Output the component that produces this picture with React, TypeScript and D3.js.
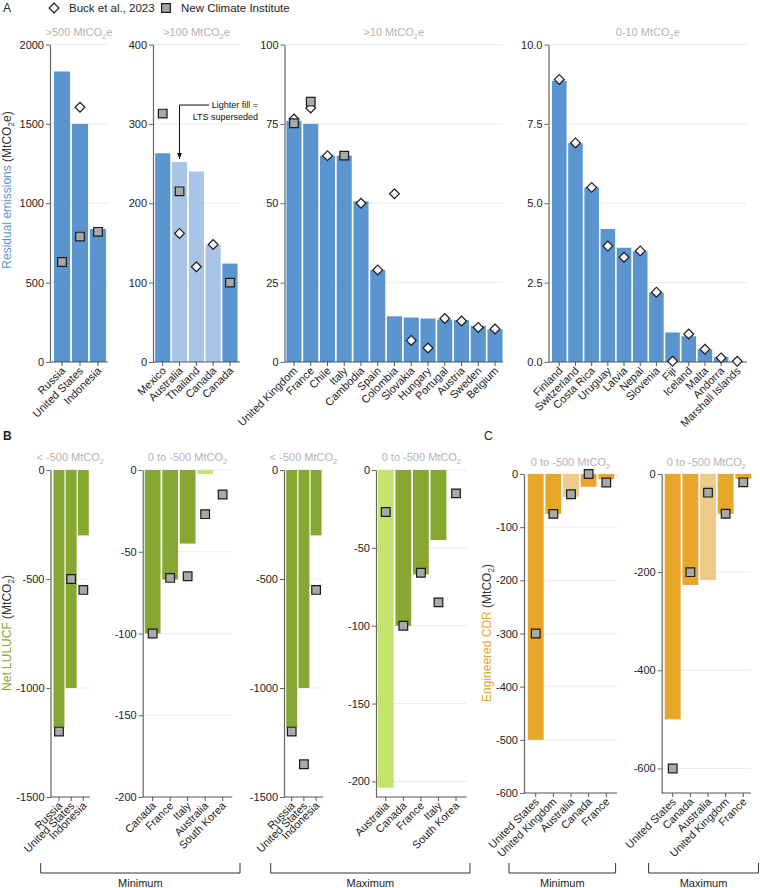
import React, { useEffect, useRef } from 'react';
import * as d3 from 'd3';

const BLUE = '#5b95cf';
const BLUE_LIGHT = '#a8c4e7';
const GREEN = '#86a832';
const GREEN_LIGHT = '#c5e46e';
const ORANGE = '#e8a62b';
const ORANGE_LIGHT = '#efca88';

// ---- A: residual emissions (MtCO2e)
const a1Countries = ['Russia', 'United States', 'Indonesia'];
const a1Bars = [1830, 1500, 838];
const a1Buck = [null, 1605, null];
const a1Nci = [630, 790, 820];

const a2Countries = ['Mexico', 'Australia', 'Thailand', 'Canada', 'Canada'];
const a2Bars = [263, 252, 240, 148, 124];
const a2Superseded = [false, true, true, true, false];
const a2Buck = [null, 162, 120, 148, null];
const a2Nci = [313, 215, null, null, 100];

const a3Countries = ['United Kingdom', 'France', 'Chile', 'Italy', 'Cambodia', 'Spain', 'Colombia',
  'Slovakia', 'Hungary', 'Portugal', 'Austria', 'Sweden', 'Belgium'];
const a3Bars = [76, 75, 65, 65, 50.6, 29, 14.4, 14, 13.7, 13.4, 13.2, 11.4, 10.3];
const a3Buck = [76.5, 80, 65, null, 50, 29, 53, 6.8, 4.4, 13.7, 12.9, 10.9, 10.4];
const a3Nci = [75.2, 82, null, 65, null, null, null, null, null, null, null, null, null];

const a4Countries = ['Finland', 'Switzerland', 'Costa Rica', 'Uruguay', 'Latvia', 'Nepal', 'Slovenia',
  'Fiji', 'Iceland', 'Malta', 'Andorra', 'Marshall Islands'];
const a4Bars = [8.86, 6.89, 5.5, 4.19, 3.6, 3.49, 2.19, 0.93, 0.81, 0.4, 0.15, 0];
const a4Buck = [8.9, 6.9, 5.5, 3.65, 3.3, 3.5, 2.2, 0.02, 0.88, 0.4, 0.13, 0.02];

// ---- B: net LULUCF (MtCO2)
const bBigCountries = ['Russia', 'United States', 'Indonesia'];
const b1Bars = [-1180, -1000, -300];
const b1Nci = [-1200, -500, -550];
const b3Bars = [-1180, -1000, -300];
const b3Nci = [-1200, -1350, -550];

const b2Countries = ['Canada', 'France', 'Italy', 'Australia', 'South Korea'];
const b2Bars = [-100, -67, -45, -2.5, 0];
const b2Superseded = [false, false, false, true, false];
const b2Nci = [-100, -66, -65, -27, -15];

const b4Countries = ['Australia', 'Canada', 'France', 'Italy', 'South Korea'];
const b4Bars = [-204, -100, -67, -45, 0];
const b4Superseded = [true, false, false, false, false];
const b4Nci = [-27, -100, -66, -85, -15];

// ---- C: engineered CDR (MtCO2)
const c1Countries = ['United States', 'United Kingdom', 'Australia', 'Canada', 'France'];
const c1Bars = [-500, -75, -43, -24, -10];
const c1Superseded = [false, false, true, false, false];
const c1Nci = [-300, -75, -38, 0, -16];

const c2Countries = ['United States', 'Canada', 'Australia', 'United Kingdom', 'France'];
const c2Bars = [-500, -226, -216, -81, -10];
const c2Superseded = [false, false, true, false, false];
const c2Nci = [-600, -200, -38, -81, -17];

const tickA1 = [0, 500, 1000, 1500, 2000];
const tickA2 = [0, 100, 200, 300, 400];
const tickA3 = [0, 25, 50, 75, 100];
const tickA4 = [0, 2.5, 5, 7.5, 10];
const tickBBig = [0, -500, -1000, -1500];
const tickBSmall = [0, -50, -100, -150, -200];
const tickC1 = [0, -100, -200, -300, -400, -500, -600];
const tickC2 = [0, -200, -400, -600];

const bracketLabels = ['Minimum', 'Maximum', 'Minimum', 'Maximum'];

const A_TOP = 44.5, A_BOT = 362;
const B_TOP = 470, B_BOT = 797;
const C_TOP = 474, C_BOT = 793;

const intFmt = (d: number) => String(d);
const oneDec = d3.format('.1f');

const panels = [
  { cats: a1Countries, bars: a1Bars, light: null, buck: a1Buck, nci: a1Nci, domain: [0, 2000], ticks: tickA1, fmt: intFmt,
    title: ['>500 MtCO', 'e'], axisX: 50, gridEnd: 108, x0: 53, x1: 107, top: A_TOP, bottom: A_BOT, titleY: 36, color: BLUE, lightColor: BLUE_LIGHT },
  { cats: a2Countries, bars: a2Bars, light: a2Superseded, buck: a2Buck, nci: a2Nci, domain: [0, 400], ticks: tickA2, fmt: intFmt,
    title: ['>100 MtCO', 'e'], axisX: 153, gridEnd: 240, x0: 154.3, x1: 238.4, top: A_TOP, bottom: A_BOT, titleY: 36, color: BLUE, lightColor: BLUE_LIGHT },
  { cats: a3Countries, bars: a3Bars, light: null, buck: a3Buck, nci: a3Nci, domain: [0, 100], ticks: tickA3, fmt: intFmt,
    title: ['>10 MtCO', 'e'], axisX: 284.5, gridEnd: 503, x0: 285.6, x1: 503.4, top: A_TOP, bottom: A_BOT, titleY: 36, color: BLUE, lightColor: BLUE_LIGHT },
  { cats: a4Countries, bars: a4Bars, light: null, buck: a4Buck, nci: null, domain: [0, 10], ticks: tickA4, fmt: oneDec,
    title: ['0-10 MtCO', 'e'], axisX: 548.5, gridEnd: 747, x0: 551.2, x1: 745.4, top: A_TOP, bottom: A_BOT, titleY: 36, color: BLUE, lightColor: BLUE_LIGHT },
  { cats: bBigCountries, bars: b1Bars, light: null, buck: null, nci: b1Nci, domain: [-1500, 0], ticks: tickBBig, fmt: intFmt,
    title: ['< -500 MtCO', ''], axisX: 50.5, gridEnd: 90, x0: 52.9, x1: 89.4, top: B_TOP, bottom: B_BOT, titleY: 461, color: GREEN, lightColor: GREEN_LIGHT },
  { cats: b2Countries, bars: b2Bars, light: b2Superseded, buck: null, nci: b2Nci, domain: [-200, 0], ticks: tickBSmall, fmt: intFmt,
    title: ['0 to -500 MtCO', ''], axisX: 142.7, gridEnd: 232.3, x0: 143.9, x1: 231.4, top: B_TOP, bottom: B_BOT, titleY: 461, color: GREEN, lightColor: GREEN_LIGHT },
  { cats: bBigCountries, bars: b3Bars, light: null, buck: null, nci: b3Nci, domain: [-1500, 0], ticks: tickBBig, fmt: intFmt,
    title: ['< -500 MtCO', ''], axisX: 284, gridEnd: 323, x0: 285.6, x1: 322.2, top: B_TOP, bottom: B_BOT, titleY: 461, color: GREEN, lightColor: GREEN_LIGHT },
  { cats: b4Countries, bars: b4Bars, light: b4Superseded, buck: null, nci: b4Nci, domain: [-210, 0], ticks: tickBSmall, fmt: intFmt,
    title: ['0 to -500 MtCO', ''], axisX: 376, gridEnd: 466.7, x0: 377, x1: 464.8, top: B_TOP, bottom: B_BOT, titleY: 461, color: GREEN, lightColor: GREEN_LIGHT },
  { cats: c1Countries, bars: c1Bars, light: c1Superseded, buck: null, nci: c1Nci, domain: [-600, 0], ticks: tickC1, fmt: intFmt,
    title: ['0 to -500 MtCO', ''], axisX: 524, gridEnd: 617, x0: 526.9, x1: 615.1, top: C_TOP, bottom: C_BOT, titleY: 466, color: ORANGE, lightColor: ORANGE_LIGHT },
  { cats: c2Countries, bars: c2Bars, light: c2Superseded, buck: null, nci: c2Nci, domain: [-650, 0], ticks: tickC2, fmt: intFmt,
    title: ['0 to -500 MtCO', ''], axisX: 661.7, gridEnd: 751, x0: 663.9, x1: 752.1, top: C_TOP, bottom: C_BOT, titleY: 466, color: ORANGE, lightColor: ORANGE_LIGHT },
];

const brackets = [
  { x0: 40.7, x1: 240 },
  { x0: 270.7, x1: 470 },
  { x0: 509, x1: 615.6 },
  { x0: 648.6, x1: 758.5 },
];

const diamondPath = d3.symbol().type(d3.symbolSquare).size(48)();
const squarePath = d3.symbol().type(d3.symbolSquare).size(75)();

function subText(sel: any, before: string, after: string, size: number) {
  sel.append('tspan').text(before);
  sel.append('tspan').attr('font-size', size * 0.68).attr('dy', size * 0.25).text('2');
  sel.append('tspan').attr('dy', -size * 0.25).text(after);
}

function drawPanel(svg: any, p: any) {
  const g = svg.append('g');
  const y = d3.scaleLinear().domain(p.domain).range([p.bottom, p.top]);
  const x = d3.scaleBand<number>().domain(d3.range(p.cats.length))
    .range([p.x0, p.x1]).paddingInner(0.1).paddingOuter(0.05);
  const cx = (i: number) => (x(i) as number) + x.bandwidth() / 2;

  // grid
  g.append('g').selectAll('line')
    .data(p.ticks.filter((t: number) => y(t) < p.bottom - 1))
    .join('line')
    .attr('x1', p.axisX).attr('x2', p.gridEnd)
    .attr('y1', (d: number) => y(d)).attr('y2', (d: number) => y(d))
    .attr('stroke', '#ebebeb').attr('stroke-width', 1);

  // bars
  g.append('g').selectAll('rect')
    .data(p.bars)
    .join('rect')
    .attr('x', (_: number, i: number) => x(i))
    .attr('width', x.bandwidth())
    .attr('y', (d: number) => y(Math.max(0, d)))
    .attr('height', (d: number) => Math.abs(y(d) - y(0)))
    .attr('fill', (_: number, i: number) => (p.light && p.light[i] ? p.lightColor : p.color));

  // y axis
  const ya = g.append('g').attr('transform', `translate(${p.axisX},0)`)
    .call(d3.axisLeft(y).tickValues(p.ticks).tickFormat(p.fmt).tickSize(4).tickSizeOuter(0).tickPadding(2));
  ya.select('.domain').attr('stroke', '#666').attr('stroke-width', 1.2);
  ya.selectAll('.tick line').attr('stroke', '#666');
  ya.selectAll('text').attr('font-size', 11).attr('font-family', 'Liberation Sans, Arial, sans-serif').attr('fill', '#222');

  // x axis
  const xa = g.append('g').attr('transform', `translate(0,${p.bottom})`)
    .call(d3.axisBottom(x).tickFormat((i: number) => p.cats[i]).tickSize(4).tickSizeOuter(0));
  xa.select('.domain').remove();
  xa.append('line').attr('x1', p.axisX).attr('x2', p.gridEnd).attr('stroke', '#555').attr('stroke-width', 1.2);
  xa.selectAll('.tick line').attr('stroke', '#555');
  xa.selectAll('text')
    .attr('font-size', 11).attr('font-family', 'Liberation Sans, Arial, sans-serif').attr('fill', '#222')
    .attr('x', 0).attr('y', 0).attr('dy', 0)
    .attr('text-anchor', 'end')
    .attr('transform', 'translate(4,9.5) rotate(-45)');

  // Buck et al. diamonds
  if (p.buck) {
    g.append('g').selectAll('path')
      .data(p.buck.map((v: number | null, i: number) => ({ v, i })).filter((d: any) => d.v !== null))
      .join('path')
      .attr('d', diamondPath)
      .attr('transform', (d: any) => `translate(${cx(d.i)},${y(d.v)}) rotate(45)`)
      .attr('fill', '#f7f7f7').attr('stroke', '#1a1a1a').attr('stroke-width', 1.2);
  }
  // New Climate Institute squares
  if (p.nci) {
    g.append('g').selectAll('path')
      .data(p.nci.map((v: number | null, i: number) => ({ v, i })).filter((d: any) => d.v !== null))
      .join('path')
      .attr('d', squarePath)
      .attr('transform', (d: any) => `translate(${cx(d.i)},${y(d.v)})`)
      .attr('fill', '#a9a9a9').attr('stroke', '#1a1a1a').attr('stroke-width', 1.2);
  }

  // title
  const t = g.append('text')
    .attr('x', (p.axisX + p.gridEnd) / 2).attr('y', p.titleY)
    .attr('text-anchor', 'middle').attr('font-size', 11).attr('fill', '#b3b3b3');
  subText(t, p.title[0], p.title[1], 11);

  return { x, y, cx };
}

function yLabel(svg: any, x: number, y: number, name: string, color: string, unitEnd: string) {
  const t = svg.append('text')
    .attr('transform', `translate(${x},${y}) rotate(-90)`)
    .attr('text-anchor', 'middle').attr('font-size', 12).attr('fill', '#333');
  t.append('tspan').attr('fill', color).text(name);
  subText(t, ' (MtCO', unitEnd + ')', 12);
}

export default function App() {
  const ref = useRef<SVGSVGElement>(null);

  useEffect(() => {
    const svg = d3.select(ref.current);
    svg.selectAll('*').remove();

    const scales = panels.map((p) => drawPanel(svg, p));

    // legend and panel letters
    svg.append('text').attr('x', 3).attr('y', 12).attr('font-size', 12).attr('fill', '#222').text('A');
    svg.append('text').attr('x', 3).attr('y', 440).attr('font-size', 12).attr('font-weight', 'bold').attr('fill', '#222').text('B');
    svg.append('text').attr('x', 484).attr('y', 440).attr('font-size', 12).attr('fill', '#222').text('C');
    svg.append('path').attr('d', diamondPath).attr('transform', 'translate(54,8) rotate(45)')
      .attr('fill', '#fff').attr('stroke', '#1a1a1a').attr('stroke-width', 1.2);
    svg.append('text').attr('x', 69).attr('y', 12).attr('font-size', 11.5).attr('fill', '#222').text('Buck et al., 2023');
    svg.append('path').attr('d', squarePath).attr('transform', 'translate(166,8)')
      .attr('fill', '#a9a9a9').attr('stroke', '#1a1a1a').attr('stroke-width', 1.2);
    svg.append('text').attr('x', 181).attr('y', 12).attr('font-size', 11.5).attr('fill', '#222').text('New Climate Institute');

    // y-axis titles
    yLabel(svg, 11, 190, 'Residual emissions', BLUE, 'e');
    yLabel(svg, 11, 633, 'Net LULUCF', GREEN, '');
    yLabel(svg, 491, 633, 'Engineered CDR', ORANGE, '');

    // annotation: lighter fill = LTS superseded
    const a2 = scales[1];
    const ax = a2.cx(1);
    svg.append('defs').append('marker').attr('id', 'arr').attr('viewBox', '0 0 10 10')
      .attr('refX', 10).attr('refY', 5).attr('markerWidth', 6).attr('markerHeight', 6).attr('orient', 'auto')
      .append('path').attr('d', 'M0,1 L10,5 L0,9 Z').attr('fill', '#111');
    svg.append('path')
      .attr('d', `M209,105 H${ax} V${a2.y(a2Bars[1]) - 3}`)
      .attr('fill', 'none').attr('stroke', '#111').attr('stroke-width', 1)
      .attr('marker-end', 'url(#arr)');
    svg.append('text').attr('x', 258).attr('y', 108).attr('text-anchor', 'end').attr('font-size', 9).attr('fill', '#111').text('Lighter fill =');
    svg.append('text').attr('x', 258).attr('y', 120).attr('text-anchor', 'end').attr('font-size', 9).attr('fill', '#111').text('LTS superseded');

    // brackets
    brackets.forEach((b, i) => {
      svg.append('path')
        .attr('d', `M${b.x0},863 V873 H${b.x1} V863`)
        .attr('fill', 'none').attr('stroke', '#333').attr('stroke-width', 1);
      svg.append('text').attr('x', (b.x0 + b.x1) / 2).attr('y', 887)
        .attr('text-anchor', 'middle').attr('font-size', 11).attr('fill', '#222').text(bracketLabels[i]);
    });
  }, []);

  return (
    <svg
      ref={ref}
      width={760}
      height={888}
      style={{ position: 'absolute', left: 0, top: 0, background: '#fff' }}
      fontFamily="'Liberation Sans', Arial, sans-serif"
    />
  );
}
